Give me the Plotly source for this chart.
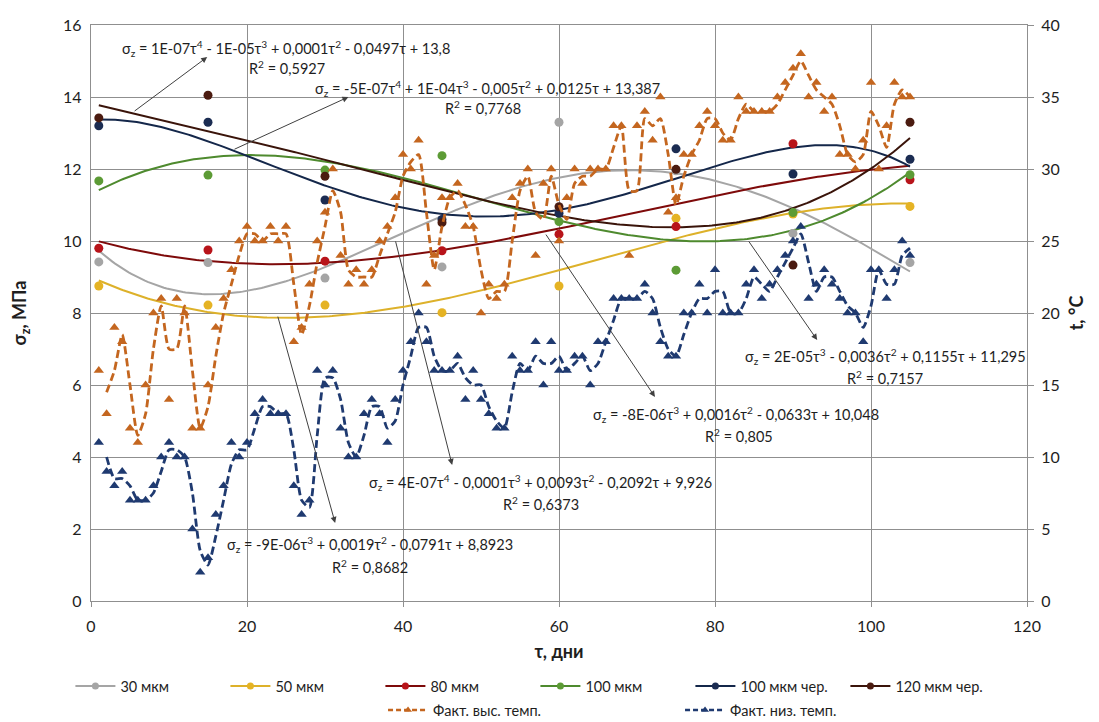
import numpy as np
import pandas as pd
import plotly.graph_objects as go

# ---------------- data ----------------
sigma_tau = [1, 15, 30, 45, 60, 75, 90, 105]

s30 = [9.42, 9.40, 8.97, 9.28, 13.30, 11.95, 10.21, 9.40]
s50 = [8.75, 8.22, 8.22, 8.01, 8.75, 10.63, 10.75, 10.96]
s80 = [9.80, 9.75, 9.44, 9.73, 10.19, 10.40, 12.70, 11.70]
s100 = [11.67, 11.83, 11.97, 12.37, 10.54, 9.19, 10.79, 11.84]
s100c = [13.20, 13.30, 11.14, 10.60, 10.77, 12.56, 11.86, 12.27]
s120c = [13.42, 14.05, 11.80, 10.51, 10.95, 11.99, 9.33, 13.30]

trend_order = {"30 мкм": 4, "50 мкм": 3, "80 мкм": 3, "100 мкм": 3,
               "100 мкм чер.": 4, "120 мкм чер.": 4}

days = list(range(1, 106))
t_high = [16, 13, 19, 18, 12, 11, 15, 20, 21, 14,
          21, 20, 12, 12, 15, 19, 21, 23, 25, 26,
          25, 25, 26, 25, 26, 18, 19, 22, 25, 27,
          30, 24, 22, 23, 22, 23, 25, 26, 28, 31,
          30, 32, 22, 24, 28, 28, 29, 26, 26, 20,
          22, 21, 22, 28, 29, 30, 24, 29, 30, 25,
          28, 30, 29, 30, 30, 30, 33, 33, 24, 33,
          34, 32, 35, 27, 28, 31, 31, 33, 34, 33,
          32, 32, 35, 34, 34, 34, 34, 35, 36, 37,
          38, 35, 36, 34, 35, 31, 31, 30, 32, 36,
          30, 33, 36, 35, 35]
t_low = [11, 9, 8, 9, 7, 7, 7, 8, 10, 11,
         10, 10, 5, 2, 3, 6, 8, 11, 10, 11,
         13, 14, 13, 13, 13, 8, 6, 7, 16, 15,
         16, 12, 10, 10, 13, 14, 13, 11, 14, 16,
         18, 20, 18, 16, 16, 16, 17, 14, 16, 14,
         13, 12, 12, 17, 16, 16, 18, 15, 18, 16,
         16, 17, 17, 15, 18, 18, 21, 21, 21, 21,
         22, 20, 18, 17, 17, 20, 20, 22, 20, 23,
         20, 20, 20, 22, 23, 21, 22, 23, 24, 25,
         26, 21, 22, 23, 22, 21, 20, 20, 18, 23,
         23, 21, 23, 25, 24]

series = [
    ("30 мкм", s30, "#A5A5A5", "#A5A5A5"),
    ("50 мкм", s50, "#DDB12A", "#E5B324"),
    ("80 мкм", s80, "#7E0A0A", "#B8141A"),
    ("100 мкм", s100, "#4E8A2E", "#5C9B35"),
    ("100 мкм чер.", s100c, "#14274A", "#1B2C52"),
    ("120 мкм чер.", s120c, "#3A140A", "#4B1B10"),
]
temps = [
    ("Факт. выс. темп.", t_high, "#C4661F"),
    ("Факт. низ. темп.", t_low, "#1F3A70"),
]

equations = [
    ("σ<sub>z</sub> = 1E-07τ<sup>4</sup> - 1E-05τ<sup>3</sup> + 0,0001τ<sup>2</sup> - 0,0497τ + 13,8", "R<sup>2</sup> = 0,5927"),
    ("σ<sub>z</sub> = -5E-07τ<sup>4</sup> + 1E-04τ<sup>3</sup> - 0,005τ<sup>2</sup> + 0,0125τ + 13,387", "R<sup>2</sup> = 0,7768"),
    ("σ<sub>z</sub> = 2E-05τ<sup>3</sup> - 0,0036τ<sup>2</sup> + 0,1155τ + 11,295", "R<sup>2</sup> = 0,7157"),
    ("σ<sub>z</sub> = -8E-06τ<sup>3</sup> + 0,0016τ<sup>2</sup> - 0,0633τ + 10,048", "R<sup>2</sup> = 0,805"),
    ("σ<sub>z</sub> = 4E-07τ<sup>4</sup> - 0,0001τ<sup>3</sup> + 0,0093τ<sup>2</sup> - 0,2092τ + 9,926", "R<sup>2</sup> = 0,6373"),
    ("σ<sub>z</sub> = -9E-06τ<sup>3</sup> + 0,0019τ<sup>2</sup> - 0,0791τ + 8,8923", "R<sup>2</sup> = 0,8682"),
]
# (eq x, eq y, r2 x, r2 y, arrow tail x, tail y, head x, head y) in axis units
eq_layout = [
    (25.0, 15.36, 25.1, 14.81, 5.4, 13.58, 14.9, 15.11),
    (50.8, 14.25, 50.3, 13.72, 18.2, 12.53, 33.0, 14.0),
    (101.9, 6.78, 101.8, 6.22, 84.2, 10.03, 93.1, 7.25),
    (82.7, 5.17, 83.1, 4.61, 58.2, 10.22, 72.3, 5.67),
    (57.6, 3.28, 57.7, 2.72, 39.0, 10.03, 46.3, 3.78),
    (35.8, 1.56, 35.8, 0.97, 23.9, 7.94, 31.3, 2.17),
]

FONT = "Lato, 'Open Sans', sans-serif"
TXT = "#1E1E1E"

fig = go.Figure()

# polynomial trendlines (fitted to the points, as in the source spreadsheet)
xs = np.linspace(sigma_tau[0], sigma_tau[-1], 300)
for name, vals, lc, mc in series:
    coef = np.polyfit(sigma_tau, vals, trend_order[name])
    fig.add_trace(go.Scatter(x=xs, y=np.polyval(coef, xs), mode="lines",
                             line=dict(color=lc, width=2), showlegend=False,
                             hoverinfo="skip"))

# temperatures: markers + dashed 2-period moving average
for name, vals, c in temps:
    ma = pd.Series(vals, index=days).rolling(2).mean()
    fig.add_trace(go.Scatter(x=list(ma.index), y=list(ma.values), mode="lines",
                             line=dict(color=c, width=2.8, dash="8px,4px", shape="spline", smoothing=0.6),
                             yaxis="y2", showlegend=False))
    fig.add_trace(go.Scatter(x=days, y=vals, mode="markers",
                             marker=dict(symbol="triangle-up", size=9, color=c),
                             yaxis="y2", showlegend=False))

# measured points
for name, vals, lc, mc in series:
    fig.add_trace(go.Scatter(x=sigma_tau, y=vals, mode="markers",
                             marker=dict(size=9, color=mc), showlegend=False))

# legend entries
for name, vals, lc, mc in series:
    fig.add_trace(go.Scatter(x=[None], y=[None], mode="lines+markers", name=name,
                             line=dict(color=lc, width=2), marker=dict(size=7, color=mc),
                             legend="legend"))
for name, vals, c in temps:
    fig.add_trace(go.Scatter(x=[None], y=[None], mode="lines+markers", name=name,
                             line=dict(color=c, width=2.5, dash="5px,3px"),
                             marker=dict(size=7, color=c, symbol="triangle-up"),
                             legend="legend2"))

ann = []
for (eq, r2), (ex, ey, rx, ry, tx, ty, hx, hy) in zip(equations, eq_layout):
    ann.append(dict(x=ex, y=ey, xref="x", yref="y", text=eq, showarrow=False,
                    xanchor="center", yanchor="middle", font=dict(size=14.5, color=TXT)))
    ann.append(dict(x=rx, y=ry, xref="x", yref="y", text=r2, showarrow=False,
                    xanchor="center", yanchor="middle", font=dict(size=14.5, color=TXT)))
    ann.append(dict(x=hx, y=hy, xref="x", yref="y", ax=tx, ay=ty, axref="x", ayref="y",
                    text="", showarrow=True, arrowhead=2, arrowsize=1.2, arrowwidth=1,
                    arrowcolor="#404040"))

grid = "#8F8F8F"
fig.update_layout(
    width=1091, height=714,
    margin=dict(l=83, r=72, t=17, b=121, autoexpand=False),
    paper_bgcolor="white", plot_bgcolor="white",
    font=dict(family=FONT, size=15, color=TXT),
    xaxis=dict(range=[0, 120], dtick=20, showgrid=True, gridcolor=grid, gridwidth=1.3,
               zeroline=False, showline=True, linecolor=grid, linewidth=1.3, mirror=True,
               ticks="outside", ticklen=5, tickcolor=grid, automargin=False,
               ticklabelstandoff=6,
               tickfont=dict(size=16, color=TXT),
               title=dict(text="<b>τ, дни</b>", font=dict(size=18, color=TXT), standoff=11)),
    yaxis=dict(range=[0, 16], dtick=2, showgrid=True, gridcolor=grid, gridwidth=1.3,
               zeroline=False, showline=True, linecolor=grid, linewidth=1.3, mirror=True,
               ticks="", automargin=False, ticklabelstandoff=5,
               tickfont=dict(size=16, color=TXT),
               title=dict(text="<b>σ<sub>z</sub>, МПа</b>", font=dict(size=18, color=TXT), standoff=32)),
    yaxis2=dict(range=[0, 40], dtick=5, overlaying="y", side="right", showgrid=False,
                zeroline=False, showline=False, ticks="outside", ticklen=6, tickcolor=grid,
                automargin=False, ticklabelstandoff=4,
                tickfont=dict(size=16, color=TXT),
                title=dict(text="<b>t, °C</b>", font=dict(size=18, color=TXT), standoff=11)),
    legend=dict(orientation="h", x=-0.022, xanchor="left", y=-0.12, yanchor="top",
                entrywidth=100, entrywidthmode="pixels", font=dict(size=14.5, color=TXT),
                itemwidth=40, bgcolor="rgba(0,0,0,0)"),
    legend2=dict(orientation="h", x=0.312, xanchor="left", y=-0.1615, yanchor="top",
                 entrywidth=242, entrywidthmode="pixels", font=dict(size=14.5, color=TXT),
                 itemwidth=40, bgcolor="rgba(0,0,0,0)"),
    annotations=ann,
)

fig.write_html("out.html")
